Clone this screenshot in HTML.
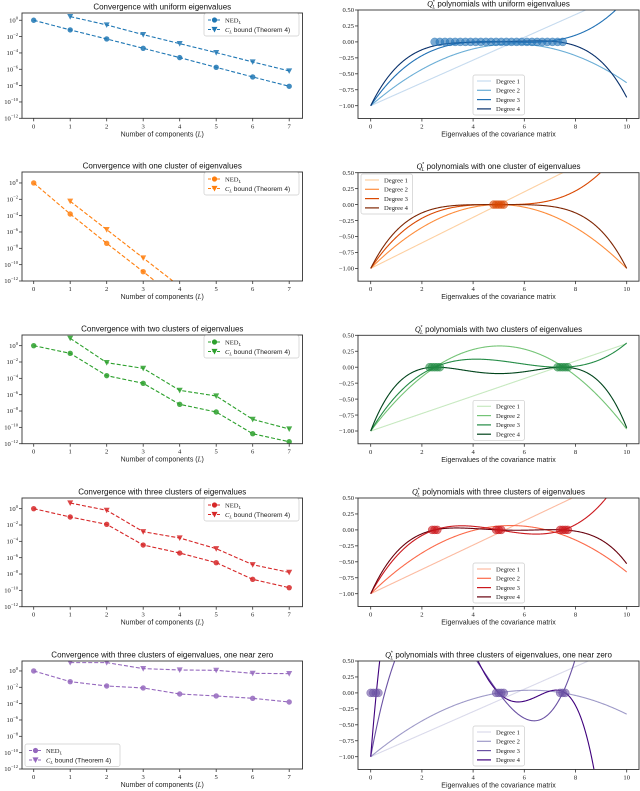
<!DOCTYPE html>
<html><head><meta charset="utf-8"><style>
html,body{margin:0;padding:0;background:#fff;width:640px;height:791px;overflow:hidden;}
svg{display:block;font-family:"Liberation Serif",serif;}
.ttl{font-family:"Liberation Sans",sans-serif;font-size:8px;fill:#111;}
.tk{font-size:6.6px;fill:#222;}
.lab{font-family:"Liberation Sans",sans-serif;font-size:7px;fill:#222;}
.lg{font-size:6.6px;fill:#222;}
</style></head><body>
<svg id="fig" width="640" height="791" viewBox="0 0 640 791" xmlns="http://www.w3.org/2000/svg"></svg>
<script>
// ---- Left panels: log10 of values, L = 0..7 ----
const compL = [0,1,2,3,4,5,6,7];
const boundL = [1,2,3,4,5,6,7];
const nedUniform = [0,-1.18,-2.29,-3.43,-4.57,-5.76,-6.94,-8.08];
const bndUniform = [0.45,-0.57,-1.76,-2.86,-3.96,-5.1,-6.2];
const nedOne = [0,-3.8,-7.39,-10.86,-14.4,-17.9,-21.4,-24.9];
const bndOne = [-2.24,-5.71,-9.18,-12.65,-16.1,-19.6,-23.1];
const nedTwo = [0,-0.94,-3.67,-4.61,-7.18,-8.12,-10.78,-11.76];
const bndTwo = [0.9,-2.08,-2.78,-5.47,-6.16,-9.02,-10.2];
const nedThree = [0,-1.02,-1.92,-4.45,-5.43,-6.61,-8.65,-9.67];
const bndThree = [0.69,-0.2,-2.82,-3.59,-4.9,-6.86,-7.8];
const nedZero = [0,-1.31,-1.84,-2.08,-2.82,-3.06,-3.35,-3.8];
const bndZero = [1.02,1.02,0.29,0.12,0.08,-0.29,-0.33];
const logTicks = [0,-2,-4,-6,-8,-10,-12];
const xTicksL = [0,1,2,3,4,5,6,7];
// ---- Right panels: polynomial sample points (x, value) per degree ----
const uniX = [[0,10],[0,5,10],[0,3.333,6.667,10],[0,2.5,5,7.5,10]];
const uniY = [[-1,0.786],[-1,-0.043,-0.64],[-1,-0.03,0.0,0.68],[-1,-0.06,0.0,-0.01,-0.87]];
const oneX = [[0,10],[0,5,10],[0,3.333,6.667,10],[0,2.5,5,7.5,10]];
const oneY = [[-1,1],[-1,0,-1],[-1,-0.036,0.036,1],[-1,-0.0625,0,-0.0625,-1]];
const twoX = [[0,10],[0,5,10],[0,2.5,7.5,10],[0,2.5,5,7.5,10]];
const twoY = [[-1,0.37],[-1,0.333,-0.97],[-1,0,0,0.38],[-1,0,-0.1,0,-0.95]];
const threeX = [[0,10],[0,5,10],[0,2.5,5,9.2],[0,2.5,5,7.5,10]];
const threeY = [[-1,0.905],[-1,0.06,-0.66],[-1,0,0,0.5],[-1,0,0,0,-0.53]];
const zeroX = [[0,10],[0,5,7.5],[0,0.55,5,7.5],[0,0.22,5,6.8,7.6]];
const zeroY = [[-1,0.765],[-1,0,0],[-1,0,0,0],[-1,0,0,0,0]];
// eigenvalues (cluster markers at y = 0)
const eigUni = [2.5,2.7,2.9,3.1,3.3,3.5,3.7,3.9,4.1,4.3,4.5,4.7,4.9,5.1,5.3,5.5,5.7,5.9,6.1,6.3,6.5,6.7,6.9,7.1,7.3,7.5];
const eigOne = [4.8,4.9,5.0,5.1,5.2];
const eigTwo = [2.3,2.4,2.5,2.6,2.7,7.3,7.4,7.5,7.6,7.7];
const eigThree = [2.4,2.5,2.6,4.9,5.0,5.1,7.4,7.5,7.6,7.7];
const eigZero = [0.0,0.1,0.2,0.3,4.9,5.0,5.1,5.2,7.4,7.5,7.6];
const polyTicksY = [0.5,0.25,0,-0.25,-0.5,-0.75,-1.0];
const polyTicksX = [0,2,4,6,8,10];

const NS = "http://www.w3.org/2000/svg";
const fig = document.getElementById('fig');
function mk(tag, attrs, parent){
  const e = document.createElementNS(NS, tag);
  for (const k in attrs) e.setAttribute(k, attrs[k]);
  (parent||fig).appendChild(e);
  return e;
}
const leftTops = [13,172,335,498,661];
const leftBots = [118.3,281,443.7,606.7,769];
const rightTops = [10,172.7,335.3,498,661];
const titlesL = ["Convergence with uniform eigenvalues","Convergence with one cluster of eigenvalues","Convergence with two clusters of eigenvalues","Convergence with three clusters of eigenvalues","Convergence with three clusters of eigenvalues, one near zero"];
const titlesR = ["polynomials with uniform eigenvalues","polynomials with one cluster of eigenvalues","polynomials with two clusters of eigenvalues","polynomials with three clusters of eigenvalues","polynomials with three clusters of eigenvalues, one near zero"];
const colorsL = ["#1f77b4","#ff7f0e","#2ca02c","#d62728","#9467bd"];
const cmaps = [["#c6dbef","#6baed6","#2171b5","#08306b"],["#fdd0a2","#fd8d3c","#d94801","#7f2704"],["#c7e9c0","#74c476","#238b45","#00441b"],["#fcbba1","#fb6a4a","#cb181d","#67000d"],["#dadaeb","#9e9ac8","#6a51a3","#3f007d"]];
const nedAll = [nedUniform,nedOne,nedTwo,nedThree,nedZero];
const bndAll = [bndUniform,bndOne,bndTwo,bndThree,bndZero];
const pX = [uniX,oneX,twoX,threeX,zeroX];
const pY = [uniY,oneY,twoY,threeY,zeroY];
const eigAll = [eigUni,eigOne,eigTwo,eigThree,eigZero];

const LX0 = 22, LX1 = 302.5;
function lx(L){ return 33.7 + L*36.5; }
const RX0 = 358, RX1 = 639;
function rx(v){ return 370.7 + v*25.6; }
const LOG_FLOOR = -12.4;

function lagrange(xs, ys, x){
  let s = 0;
  for (let i=0;i<xs.length;i++){
    let t = ys[i];
    for (let j=0;j<xs.length;j++) if (j!==i) t *= (x-xs[j])/(xs[i]-xs[j]);
    s += t;
  }
  return s;
}
// cut a polyline (in data coords) at the lower floor
function cutAtFloor(xs, vs, floor){
  const out = [];
  for (let i=0;i<xs.length;i++){
    if (vs[i] >= floor){ out.push([xs[i], vs[i]]); continue; }
    if (i>0 && vs[i-1] >= floor){
      const f = (vs[i-1]-floor)/(vs[i-1]-vs[i]);
      out.push([xs[i-1] + f*(xs[i]-xs[i-1]), floor]);
    }
    break;
  }
  return out;
}

for (let r=0; r<5; r++){
  // ===== LEFT =====
  const top = leftTops[r], bot = leftBots[r];
  const ly = v => bot - (v+12)*8.17;
  const gL = mk('g', {});
  
  
  const cid = 'clipL'+r;
  const cp = mk('clipPath', {id:cid}, gL);
  mk('rect', {x:LX0, y:top, width:LX1-LX0, height:bot-top}, cp);
  const t = mk('text', {x:(LX0+LX1)/2, y:top-3.5, 'text-anchor':'middle', class:'ttl'}, gL);
  t.textContent = titlesL[r];
  
  
  for (const v of logTicks){
    const y = ly(v);
    mk('line', {x1:LX0-3, x2:LX0, y1:y, y2:y, stroke:'#333', 'stroke-width':0.8}, gL);
    const tl = mk('text', {x:LX0-4, y:y+2.2, 'text-anchor':'end', class:'tk'}, gL);
    
    
    const a = document.createElementNS(NS,'tspan'); a.textContent = '10'; tl.appendChild(a);
    const b = document.createElementNS(NS,'tspan'); b.setAttribute('dy','-3'); b.setAttribute('font-size','4.6px');
    b.textContent = v===0 ? '0' : '\u2212'+(-v); tl.appendChild(b);
  }
  for (const v of xTicksL){
    const x = lx(v);
    mk('line', {x1:x, x2:x, y1:bot, y2:bot+3, stroke:'#333', 'stroke-width':0.8}, gL);
    const tl = mk('text', {x:x, y:bot+10, 'text-anchor':'middle', class:'tk'}, gL);
    tl.textContent = v;
    
    
  }
  const xl = mk('text', {x:(LX0+LX1)/2, y:bot+18, 'text-anchor':'middle', class:'lab'}, gL);
  xl.innerHTML = 'Number of components (<tspan font-family="Liberation Serif" font-style="italic">L</tspan>)';
  
  
  const col = colorsL[r];
  const sg = mk('g', {'clip-path':'url(#'+cid+')'}, gL);
  const ned = nedAll[r], bnd = bndAll[r];
  const nedPts = cutAtFloor(compL, ned, LOG_FLOOR);
  const bndPts = cutAtFloor(boundL, bnd, LOG_FLOOR);
  const p1 = mk('polyline', {points: nedPts.map(p=>lx(p[0])+','+ly(p[1])).join(' '), fill:'none', stroke:col, 'stroke-width':1.1, 'stroke-dasharray':'4,2'}, sg);
  
  
  const p2 = mk('polyline', {points: bndPts.map(p=>lx(p[0])+','+ly(p[1])).join(' '), fill:'none', stroke:col, 'stroke-width':1.1, 'stroke-dasharray':'4,2'}, sg);
  
  
  compL.forEach((L,i)=>{
    if (ned[i] < LOG_FLOOR) return;
    const c = mk('circle', {cx:lx(L), cy:ly(ned[i]), r:2.7, fill:col, 'fill-opacity':0.85}, sg);
    
    
  });
  boundL.forEach((L,i)=>{
    if (bnd[i] < LOG_FLOOR) return;
    const x = lx(L), y = ly(bnd[i]);
    const tr = mk('polygon', {points:(x-3)+','+(y-2.6)+' '+(x+3)+','+(y-2.6)+' '+x+','+(y+3), fill:col, 'fill-opacity':0.85}, sg);
    
    
  });
  const fr = mk('rect', {x:LX0, y:top, width:LX1-LX0, height:bot-top, fill:'none', stroke:'#333', 'stroke-width':0.9}, gL);
  
  
  let lgx, lgy;
  if (r===4){ lgx = 25; lgy = 744; } else { lgx = 204; lgy = top+0.5; }
  const lg = mk('g', {}, gL);
  
  
  mk('rect', {x:lgx, y:lgy, width:95, height:22.5, rx:2, fill:'#fff', 'fill-opacity':0.85, stroke:'#ccc', 'stroke-width':0.7}, lg);
  for (let k=0;k<2;k++){
    const yy = lgy+6.5+k*9.5;
    mk('line', {x1:lgx+4, x2:lgx+17, y1:yy, y2:yy, stroke:col, 'stroke-width':1.1, 'stroke-dasharray':'3,1.5'}, lg);
    if (k===0) mk('circle', {cx:lgx+10.5, cy:yy, r:2.6, fill:col}, lg);
    else mk('polygon', {points:(lgx+7.5)+','+(yy-2.6)+' '+(lgx+13.5)+','+(yy-2.6)+' '+(lgx+10.5)+','+(yy+3), fill:col}, lg);
    const tx = mk('text', {x:lgx+21, y:yy+2.3, class:'lg'}, lg);
    if (k===0) tx.innerHTML = 'NED<tspan font-size="4.6px" font-style="italic" dy="1.5">L</tspan>';
    else tx.innerHTML = '<tspan font-style="italic">C</tspan><tspan font-size="4.6px" font-style="italic" dy="1.5">L</tspan><tspan dy="-1.5" font-family="Liberation Sans"> bound (Theorem 4)</tspan>';
    
    
  }

  // ===== RIGHT =====
  const rt = rightTops[r];
  const ry = v => rt + (0.5 - v)*63.8;
  const rb = ry(-1.2);
  const gR = mk('g', {});
  
  
  const cid2 = 'clipR'+r;
  const cp2 = mk('clipPath', {id:cid2}, gR);
  mk('rect', {x:RX0, y:rt, width:RX1-RX0, height:rb-rt}, cp2);
  const t2 = mk('text', {x:(RX0+RX1)/2, y:rt-3.5, 'text-anchor':'middle', class:'ttl'}, gR);
  t2.innerHTML = '<tspan font-family="Liberation Serif" font-style="italic">Q</tspan><tspan font-size="5px" dy="-3">*</tspan><tspan font-family="Liberation Serif" font-style="italic" font-size="5px" dx="-2.5" dy="5">L</tspan><tspan dy="-2"> ' + titlesR[r] + '</tspan>';
  
  
  for (const v of polyTicksY){
    const y = ry(v);
    mk('line', {x1:RX0-3, x2:RX0, y1:y, y2:y, stroke:'#333', 'stroke-width':0.8}, gR);
    const tl = mk('text', {x:RX0-4, y:y+2.2, 'text-anchor':'end', class:'tk'}, gR);
    tl.textContent = (v<0?'\u2212':'') + Math.abs(v).toFixed(2);
    
    
  }
  for (const v of polyTicksX){
    const x = rx(v);
    mk('line', {x1:x, x2:x, y1:rb, y2:rb+3, stroke:'#333', 'stroke-width':0.8}, gR);
    const tl = mk('text', {x:x, y:rb+10, 'text-anchor':'middle', class:'tk'}, gR);
    tl.textContent = v;
    
    
  }
  const xl2 = mk('text', {x:(RX0+RX1)/2, y:rb+18, 'text-anchor':'middle', class:'lab'}, gR);
  xl2.textContent = 'Eigenvalues of the covariance matrix';
  
  
  const sg2 = mk('g', {'clip-path':'url(#'+cid2+')'}, gR);
  const cm = cmaps[r];
  for (let d=0; d<4; d++){
    const pts = [];
    for (let i=0;i<=400;i++){
      const x = i*10/400;
      let v = lagrange(pX[r][d], pY[r][d], x);
      v = Math.max(-1.25, Math.min(0.55, v));
      pts.push(rx(x).toFixed(2)+','+ry(v).toFixed(2));
    }
    const pl = mk('polyline', {points:pts.join(' '), fill:'none', stroke:cm[d], 'stroke-width':1.1}, sg2);
    
    
  }
  for (const e of eigAll[r]){
    const c = mk('circle', {cx:rx(e), cy:ry(0), r:4, fill:cm[2], 'fill-opacity':0.6, stroke:cm[2], 'stroke-opacity':0.7, 'stroke-width':0.5}, sg2);
    
    
  }
  const fr2 = mk('rect', {x:RX0, y:rt, width:RX1-RX0, height:rb-rt, fill:'none', stroke:'#333', 'stroke-width':0.9}, gR);
  
  
  let rlx, rly;
  if (r===1){ rlx = 361; rly = 174; } else { rlx = 473; rly = rt + 65; }
  const lg2 = mk('g', {}, gR);
  
  
  mk('rect', {x:rlx, y:rly, width:51.5, height:40, rx:2, fill:'#fff', 'fill-opacity':0.85, stroke:'#ccc', 'stroke-width':0.7}, lg2);
  for (let d=0; d<4; d++){
    const yy = rly+6+d*9.3;
    mk('line', {x1:rlx+4, x2:rlx+18, y1:yy, y2:yy, stroke:cm[d], 'stroke-width':1.2}, lg2);
    const tx = mk('text', {x:rlx+23, y:yy+2.3, class:'lg'}, lg2);
    tx.textContent = 'Degree ' + (d+1);
    
    
  }
}
</script>
</body></html>
